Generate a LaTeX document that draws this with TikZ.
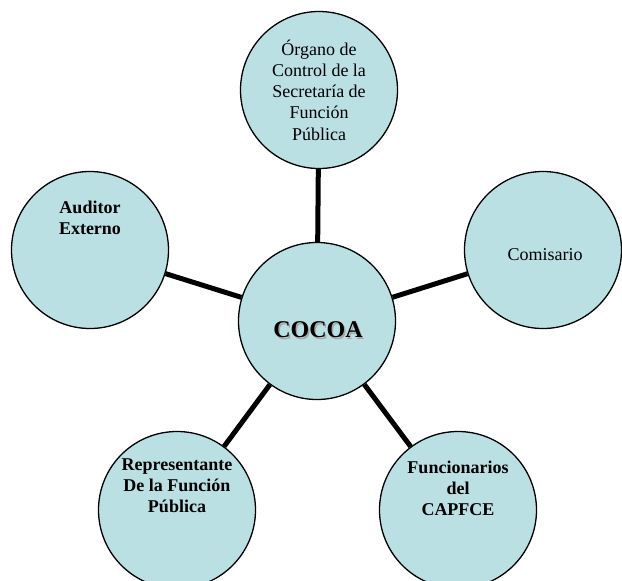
\documentclass[tikz,border=0pt]{standalone}
\usepackage{fontspec}
\setmainfont{Liberation Serif}
\definecolor{circfill}{RGB}{186,224,228}
\tikzset{
  bubble/.style={circle,draw=black,line width=1.3pt,fill=circfill,minimum size=157pt,inner sep=0pt},
  spoke/.style={line width=5pt,draw=black},
  lbl/.style={align=center,inner sep=0pt,font=\fontsize{18}{21.3}\selectfont},
  blbl/.style={lbl,font=\fontsize{18}{21}\selectfont\bfseries}
}
\begin{document}
\begin{tikzpicture}[x=1pt,y=-1pt]
\useasboundingbox (0,0) rectangle (622,581);
% circles
\node[bubble] (cocoa) at (317,321) {};
\node[bubble] (organo) at (319,90) {};
\node[bubble] (auditor) at (90,250) {};
\node[bubble] (comisario) at (543,250) {};
\node[bubble] (repr) at (177,510) {};
\node[bubble] (func) at (458,510) {};
% spokes
\draw[spoke] (cocoa) -- (organo);
\draw[spoke] (cocoa) -- (auditor);
\draw[spoke] (cocoa) -- (comisario);
\draw[spoke] (cocoa) -- (repr);
\draw[spoke] (cocoa) -- (func);
% texts
\node[lbl] (torg) at (319,90) {Órgano de\\Control de la\\Secretaría de\\Función\\Pública};
\node[blbl] (taud) at (90,218) {Auditor\\Externo};
\node[lbl] (tcom) at (545,255) {Comisario};
\node[blbl] (trep) at (177,486) {Representante\\De la Función\\Pública};
\node[blbl] (tfun) at (458,488) {Funcionarios\\del\\CAPFCE};
\node[inner sep=0pt,font=\fontsize{24}{28}\selectfont\bfseries,text=black!35] (tcocoash) at (319.5,331.5) {COCOA};
\node[inner sep=0pt,font=\fontsize{24}{28}\selectfont\bfseries] (tcocoa) at (318,330) {COCOA};
\end{tikzpicture}
\end{document}
